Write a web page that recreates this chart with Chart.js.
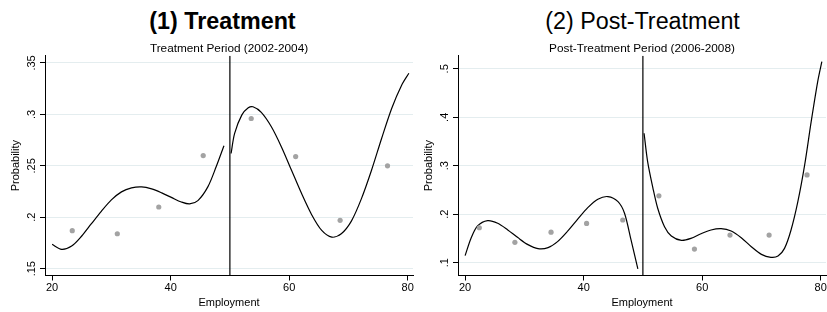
<!DOCTYPE html>
<html>
<head>
<meta charset="utf-8">
<script src="https://cdn.jsdelivr.net/npm/chart.js@4.4.0/dist/chart.umd.min.js"></script>
<style>
    html, body { margin: 0; padding: 0; background: #fff; width: 827px; height: 312px; overflow: hidden; position: relative; }
    .title { position: absolute; top: 7.5px; font-family: "Liberation Sans", Arial, sans-serif; font-size: 23.3px; line-height: 27px; text-align: center; color: #000; }
    canvas { position: absolute; top: 0; }
</style>
</head>
<body>
<div class="title" style="left:0;width:445px;font-weight:bold">(1) Treatment</div>
<div class="title" style="left:413px;width:459px">(2) Post-Treatment</div>
<canvas id="chart1" width="423" height="312" style="left:0"></canvas>
<canvas id="chart2" width="423" height="312" style="left:413px"></canvas>
<script>
// Shared axis settings
const xTicks = [20, 40, 60, 80];
const xRange = [18.8, 80.9];
const cutoff = 50;

// Panel 1: Treatment period
const yTicks1 = [0.15, 0.2, 0.25, 0.3, 0.35];
const yRange1 = [0.1434, 0.357];
const binX1 = [23.4, 31.0, 38.0, 45.5, 53.6, 61.1, 68.6, 76.6];
const binY1 = [0.187, 0.184, 0.210, 0.260, 0.296, 0.259, 0.197, 0.250];
const fitLeftX1 = [20, 21.6, 23.3, 25.0, 26.6, 28.3, 30.0, 31.7, 33.4, 35.1, 36.8, 38.5, 40.2, 41.8, 43.2, 44.6, 46.3, 47.7, 49.0];
const fitLeftY1 = [0.1737, 0.1688, 0.172, 0.1818, 0.1935, 0.2058, 0.2169, 0.2247, 0.2286, 0.2296, 0.2276, 0.2237, 0.2191, 0.2149, 0.213, 0.2162, 0.2298, 0.2493, 0.2695];
const fitRightX1 = [50.2, 50.8, 52.0, 53.1, 53.9, 55.3, 57.0, 58.7, 60.4, 62.1, 63.8, 65.5, 67.2, 68.8, 70.5, 72.2, 73.9, 75.6, 77.3, 79.0, 80.2];
const fitRightY1 = [0.262, 0.2815, 0.2993, 0.3064, 0.3074, 0.302, 0.288, 0.2684, 0.2457, 0.223, 0.2025, 0.1872, 0.1807, 0.184, 0.1963, 0.2181, 0.2457, 0.2766, 0.3058, 0.3286, 0.340];

// Panel 2: Post-treatment period
const yTicks2 = [0.1, 0.2, 0.3, 0.4, 0.5];
const yRange2 = [0.0735, 0.527];
const binX2 = [22.4, 28.4, 34.5, 40.5, 46.6, 52.7, 58.7, 64.7, 71.3, 77.7];
const binY2 = [0.172, 0.142, 0.163, 0.181, 0.188, 0.238, 0.128, 0.157, 0.157, 0.281];
const fitLeftX2 = [20, 21.0, 22.1, 23.8, 25.5, 27.2, 28.9, 30.6, 32.3, 34.0, 35.6, 37.3, 39.0, 40.7, 42.4, 44.1, 45.8, 46.9, 48.0, 49.15];
const fitLeftY2 = [0.1145, 0.1504, 0.1758, 0.1868, 0.1814, 0.1676, 0.1517, 0.1372, 0.1289, 0.131, 0.1434, 0.1649, 0.1897, 0.2136, 0.231, 0.2364, 0.226, 0.2021, 0.1469, 0.087];
const fitRightX2 = [50.2, 50.8, 51.7, 52.5, 53.65, 54.8, 56.5, 58.1, 59.8, 61.5, 63.2, 64.9, 66.6, 68.3, 70.0, 71.6, 72.8, 73.9, 75.0, 76.15, 77.3, 78.4, 79.5, 80.2];
const fitRightY2 = [0.3671, 0.3085, 0.2535, 0.2122, 0.1742, 0.155, 0.146, 0.150, 0.1597, 0.1674, 0.1701, 0.1653, 0.1515, 0.1329, 0.1171, 0.111, 0.1136, 0.1295, 0.1674, 0.2258, 0.3017, 0.3911, 0.4738, 0.515];

const FONT = '"Liberation Sans", Arial, sans-serif';
const GRID = '#e4edef';

function toPoints(xs, ys) {
    return xs.map((x, i) => ({ x: x, y: ys[i] }));
}

// Stata style: drop the leading zero
function stataLabel(v) {
    return String(v).replace(/^0\./, '.');
}

function makePanel(id, subtitle, yTicks, yRange, bins, fitLeft, fitRight, yLabelPad) {
    const ctx = document.getElementById(id).getContext('2d');
    const curve = {
        showLine: true,
        pointRadius: 0,
        borderColor: '#000',
        borderWidth: 1.2,
        tension: 0.3,
        fill: false
    };

    return new Chart(ctx, {
        type: 'scatter',
        data: {
            datasets: [
                {
                    data: bins,
                    pointRadius: 2.6,
                    pointBackgroundColor: '#a3a3a3',
                    pointBorderWidth: 0,
                    showLine: false
                },
                Object.assign({ data: fitLeft }, curve),
                Object.assign({ data: fitRight }, curve),
                {
                    data: [{ x: cutoff, y: yRange[0] }, { x: cutoff, y: yRange[1] }],
                    showLine: true,
                    pointRadius: 0,
                    borderColor: '#000',
                    borderWidth: 1.2,
                    tension: 0
                }
            ]
        },
        options: {
            responsive: false,
            animation: false,
            devicePixelRatio: 1,
            layout: { padding: { top: 41.6, left: 0, right: 10, bottom: 0 } },
            plugins: {
                legend: { display: false },
                tooltip: { enabled: false },
                subtitle: {
                    display: true,
                    text: subtitle,
                    color: '#000',
                    fullSize: false,
                    font: { family: FONT, size: 11.8, weight: 'normal' },
                    padding: 0
                }
            },
            scales: {
                x: {
                    type: 'linear',
                    min: xRange[0],
                    max: xRange[1],
                    afterBuildTicks: s => { s.ticks = xTicks.map(v => ({ value: v })); },
                    afterFit: s => { s.height = 36.5; },
                    grid: { drawOnChartArea: false, drawTicks: true, tickLength: 5, tickColor: '#000', tickWidth: 1 },
                    border: { color: '#000', width: 1 },
                    ticks: {
                        padding: 1,
                        color: '#000',
                        autoSkip: false,
                        maxRotation: 0,
                        font: { family: FONT, size: 11 },
                        callback: v => String(v)
                    },
                    title: {
                        display: true,
                        text: 'Employment',
                        color: '#000',
                        font: { family: FONT, size: 11 },
                        padding: { top: 0, bottom: 2 }
                    }
                },
                y: {
                    type: 'linear',
                    min: yRange[0],
                    max: yRange[1],
                    afterBuildTicks: s => { s.ticks = yTicks.map(v => ({ value: v })); },
                    afterFit: s => { s.width = 45; },
                    grid: { color: GRID, lineWidth: 1, tickLength: 5, tickColor: '#000', tickWidth: 1 },
                    border: { color: '#000', width: 1 },
                    ticks: {
                        minRotation: 90,
                        maxRotation: 90,
                        crossAlign: 'center',
                        padding: yLabelPad,
                        color: '#000',
                        autoSkip: false,
                        font: { family: FONT, size: 11 },
                        callback: v => stataLabel(v)
                    },
                    title: {
                        display: true,
                        text: 'Probability',
                        color: '#000',
                        font: { family: FONT, size: 11 },
                        padding: { top: 9, bottom: 0 }
                    }
                }
            }
        }
    });
}

makePanel('chart1', 'Treatment Period (2002-2004)', yTicks1, yRange1,
    toPoints(binX1, binY1), toPoints(fitLeftX1, fitLeftY1), toPoints(fitRightX1, fitRightY1), 0);
makePanel('chart2', 'Post-Treatment Period (2006-2008)', yTicks2, yRange2,
    toPoints(binX2, binY2), toPoints(fitLeftX2, fitLeftY2), toPoints(fitRightX2, fitRightY2), 3);
</script>
</body>
</html>
